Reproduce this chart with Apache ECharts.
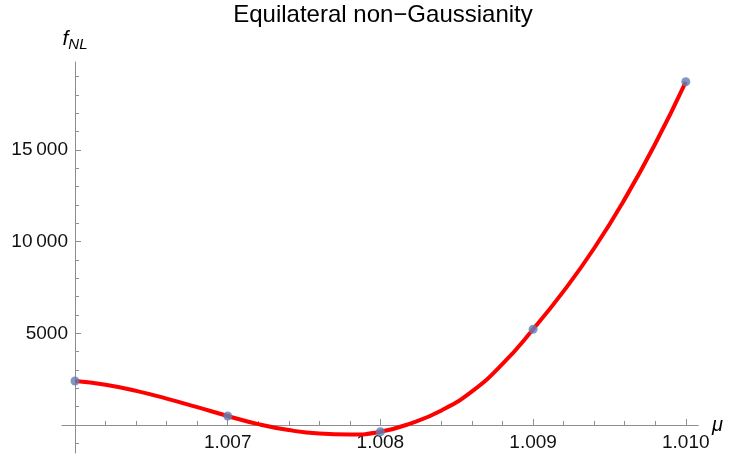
<!DOCTYPE html>
<html>
<head>
<meta charset="utf-8">
<script src="https://cdn.jsdelivr.net/npm/echarts@6/dist/echarts.min.js"></script>
<style>
  html, body { margin: 0; padding: 0; background: #fff; }
  #chart { width: 733px; height: 461px; }
</style>
</head>
<body>
<div id="chart"></div>
<script>
// sampled points (blue dots)
const pointMu = [1.006, 1.007, 1.008, 1.009, 1.010]
const pointFnl = [2400, 490, -370, 5220, 18720]

// red interpolating curve, every 0.0002
const curveMu = [
  1.0060, 1.0062, 1.0064, 1.0066, 1.0068, 1.0070, 1.0072, 1.0074, 1.0076, 1.0078,
  1.0080, 1.0082, 1.0084, 1.0086, 1.0088, 1.0090, 1.0092, 1.0094, 1.0096, 1.0098, 1.0100,
]
const curveFnl = [
  2400, 2195, 1860, 1435, 970, 490, 45, -280, -470, -520,
  -370, 90, 790, 1830, 3330, 5220, 7300, 9640, 12320, 15340, 18720,
]

const xMajorTicks = [1.007, 1.008, 1.009, 1.010]
const xMinorTicks = [
  1.0062, 1.0064, 1.0066, 1.0068, 1.0072, 1.0074, 1.0076, 1.0078,
  1.0082, 1.0084, 1.0086, 1.0088, 1.0092, 1.0094, 1.0096, 1.0098,
]
const yMajorTicks = [5000, 10000, 15000]
const yMinorTicks = [
  -1000, 1000, 2000, 3000, 4000, 6000, 7000, 8000, 9000,
  11000, 12000, 13000, 14000, 16000, 17000, 18000, 19000,
]

const X_MIN = 1.006
const X_MAX = 1.01008
const X_LINE_MIN = 1.005915
const Y_MIN = -1530
const Y_MAX = 19800

const FONT = 'Liberation Sans'
const AXIS_GRAY = '#8e8e8e'

const fmtY = (v) => (v >= 10000 ? String(v).replace(/(\d{3})$/, '\u2009$1') : String(v))

const chart = echarts.init(document.getElementById('chart'), null, { renderer: 'canvas' })

// all grids share the same scale; extra grids only carry axis pieces
const gridBox = { right: 35, top: 62, bottom: 8, outerBoundsMode: 'none' }

chart.setOption({
  animation: false,
  backgroundColor: '#fff',
  title: {
    text: 'Equilateral non\u2212Gaussianity',
    left: 378,
    top: -2,
    textAlign: 'center',
    textStyle: { fontFamily: FONT, fontSize: 24, fontWeight: 'normal', color: '#000' },
  },
  grid: [
    { left: 75, ...gridBox },
    { left: 62, ...gridBox },
    { left: 75, ...gridBox },
    // labels of the x axis sit under the y = 0 line
    { left: 75, right: 35, top: 62, bottom: 36, outerBoundsMode: 'none' },
  ],
  xAxis: [
    {
      gridIndex: 0,
      type: 'value',
      min: X_MIN,
      max: X_MAX,
      name: 'μ',
      nameLocation: 'end',
      nameGap: 14,
      nameTextStyle: { fontFamily: FONT, fontSize: 20, fontStyle: 'italic', color: '#000', verticalAlign: 'middle', padding: [10, 0, 0, 0] },
      axisLine: { onZero: true, lineStyle: { color: AXIS_GRAY, width: 1 } },
      axisTick: { inside: true, length: 6, customValues: xMajorTicks, lineStyle: { color: AXIS_GRAY } },
      axisLabel: { show: false },
      splitLine: { show: false },
    },
    {
      gridIndex: 1,
      type: 'value',
      min: X_LINE_MIN,
      max: X_MAX,
      axisLine: { onZero: true, lineStyle: { color: AXIS_GRAY, width: 1 } },
      axisTick: { show: false },
      axisLabel: { show: false },
      splitLine: { show: false },
    },
    {
      gridIndex: 2,
      type: 'value',
      min: X_MIN,
      max: X_MAX,
      axisLine: { show: false, onZero: true },
      axisTick: { inside: true, length: 4, customValues: xMinorTicks, lineStyle: { color: AXIS_GRAY } },
      axisLabel: { show: false },
      splitLine: { show: false },
    },
    {
      gridIndex: 3,
      type: 'value',
      min: X_MIN,
      max: X_MAX,
      axisLine: { show: false, onZero: false },
      axisTick: { show: false },
      axisLabel: {
        customValues: xMajorTicks,
        margin: 8,
        fontFamily: FONT,
        fontSize: 19,
        color: '#111',
        formatter: (v) => v.toFixed(3),
      },
      splitLine: { show: false },
    },
  ],
  yAxis: [
    {
      gridIndex: 0,
      type: 'value',
      min: Y_MIN,
      max: Y_MAX,
      name: '{f|f}{sub|NL}',
      nameLocation: 'end',
      nameGap: 10,
      nameTextStyle: {
        rich: {
          f: { fontFamily: FONT, fontSize: 21, fontStyle: 'italic', color: '#000' },
          sub: { fontFamily: FONT, fontSize: 15, fontStyle: 'italic', color: '#000', padding: [10, 0, 0, 0] },
        },
      },
      axisLine: { lineStyle: { color: AXIS_GRAY, width: 1 } },
      axisTick: { inside: true, length: 6, customValues: yMajorTicks, lineStyle: { color: AXIS_GRAY } },
      axisLabel: {
        customValues: yMajorTicks,
        margin: 7,
        fontFamily: FONT,
        fontSize: 19,
        color: '#111',
        formatter: fmtY,
      },
      splitLine: { show: false },
    },
    { gridIndex: 1, type: 'value', min: Y_MIN, max: Y_MAX, show: false },
    {
      gridIndex: 2,
      type: 'value',
      min: Y_MIN,
      max: Y_MAX,
      axisLine: { show: false },
      axisTick: { inside: true, length: 4, customValues: yMinorTicks, lineStyle: { color: AXIS_GRAY } },
      axisLabel: { show: false },
      splitLine: { show: false },
    },
    { gridIndex: 3, type: 'value', min: 0, max: Y_MAX, show: false },
  ],
  series: [
    {
      name: 'interpolation',
      type: 'line',
      xAxisIndex: 0,
      yAxisIndex: 0,
      data: curveMu.map((m, i) => [m, curveFnl[i]]),
      smooth: 0.5,
      showSymbol: false,
      clip: false,
      lineStyle: { color: '#ff0000', width: 4 },
      z: 3,
    },
    {
      name: 'points',
      type: 'scatter',
      xAxisIndex: 0,
      yAxisIndex: 0,
      data: pointMu.map((m, i) => [m, pointFnl[i]]),
      symbolSize: 9,
      itemStyle: { color: '#5e81b5' },
      z: 4,
    },
  ],
})
</script>
</body>
</html>
